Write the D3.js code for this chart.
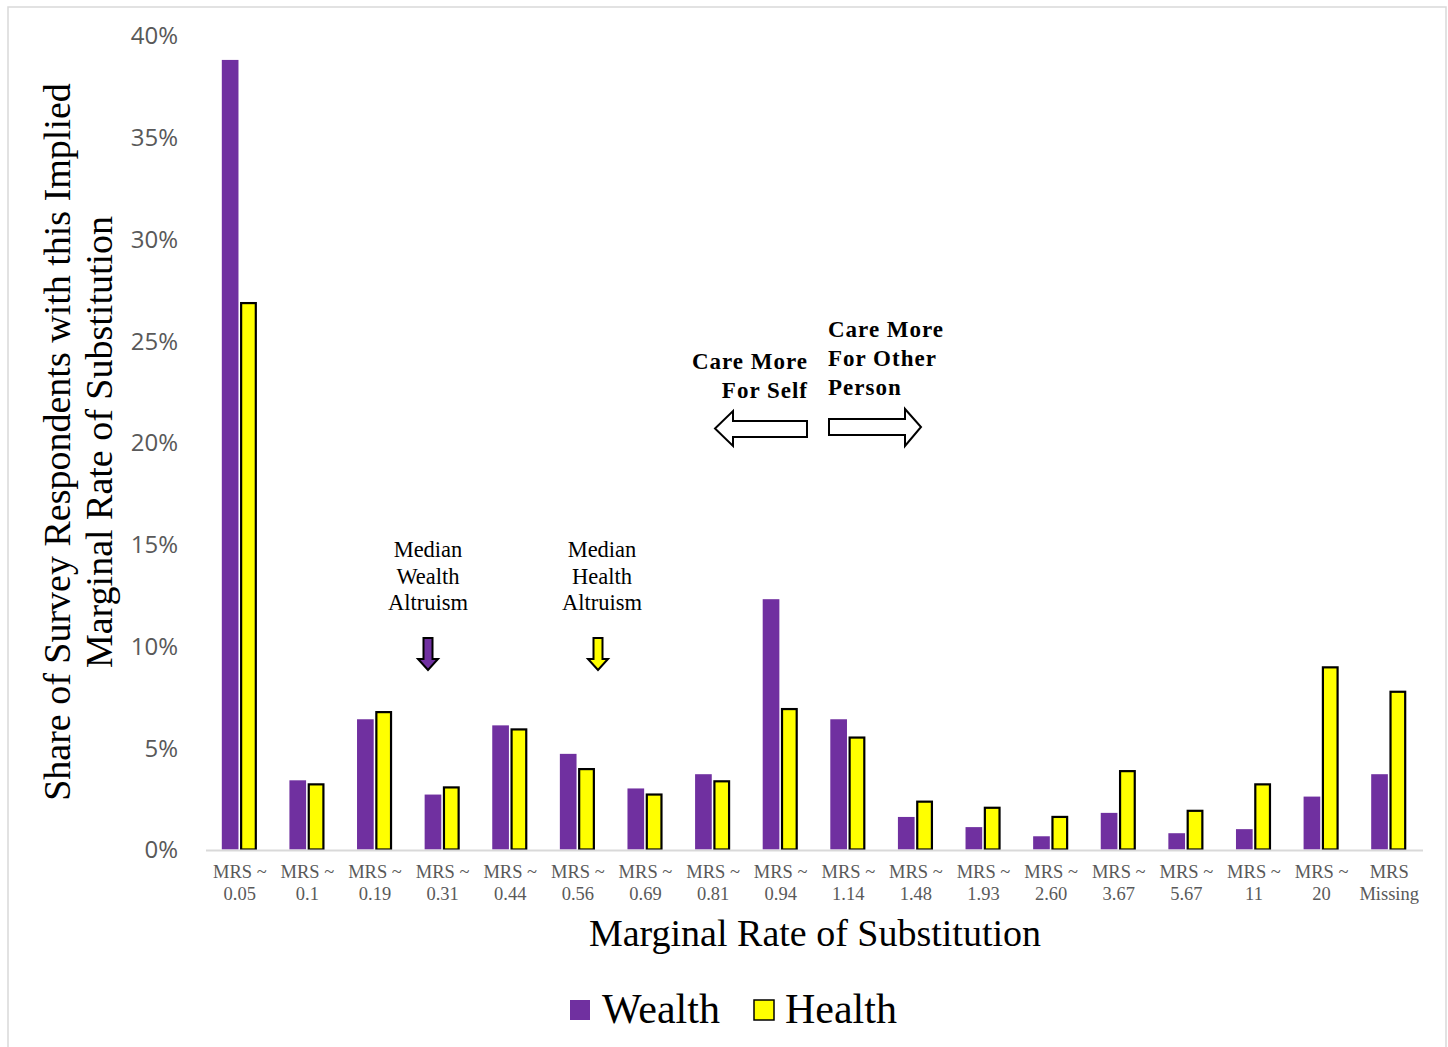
<!DOCTYPE html>
<html>
<head>
<meta charset="utf-8">
<script src="https://cdn.jsdelivr.net/npm/d3@7"></script>
<style>
  html, body { margin: 0; padding: 0; background: #ffffff; }
  svg { display: block; }
</style>
</head>
<body>
<svg id="chart" width="1448" height="1047"></svg>
<script>
// ---- data ----
const categories = ["MRS ~|0.05","MRS ~|0.1","MRS ~|0.19","MRS ~|0.31","MRS ~|0.44","MRS ~|0.56","MRS ~|0.69","MRS ~|0.81","MRS ~|0.94","MRS ~|1.14","MRS ~|1.48","MRS ~|1.93","MRS ~|2.60","MRS ~|3.67","MRS ~|5.67","MRS ~|11","MRS ~|20","MRS|Missing"];
const seriesNames = ["Wealth", "Health"];
const wealthValues = [38.8, 3.4, 6.4, 2.7, 6.1, 4.7, 3.0, 3.7, 12.3, 6.4, 1.6, 1.1, 0.65, 1.8, 0.8, 1.0, 2.6, 3.7];
const healthValues = [26.9, 3.25, 6.8, 3.1, 5.95, 4.0, 2.75, 3.4, 6.95, 5.55, 2.4, 2.1, 1.65, 3.9, 1.95, 3.25, 9.0, 7.8];
const yTicks = [0, 5, 10, 15, 20, 25, 30, 35, 40];

const colors = { Wealth: "#7030A0", Health: "#FFFF00" };
const svg = d3.select("#chart");
const serif = "'Liberation Serif', 'Times New Roman', serif";

// chart border
svg.append("rect").attr("x", 8).attr("y", 7).attr("width", 1438).attr("height", 1060)
  .attr("fill", "#ffffff").attr("stroke", "#d9d9d9").attr("stroke-width", 1.5);

const x = d3.scaleBand().domain(categories).range([206, 1423]).padding(0);
const xs = d3.scaleBand().domain(seriesNames).range([-18, 17]).paddingInner(0.09);
const y = d3.scaleLinear().domain([0, 40]).range([849.5, 35.5]);

// bars
const rows = categories.map((c, i) => ({ c, Wealth: wealthValues[i], Health: healthValues[i] }));
const g = svg.append("g");
rows.forEach(r => {
  const cx = x(r.c) + x.bandwidth() / 2;
  g.append("rect")
    .attr("x", cx + xs("Wealth")).attr("width", xs.bandwidth())
    .attr("y", y(r.Wealth)).attr("height", y(0) - y(r.Wealth))
    .attr("fill", colors.Wealth);
  g.append("rect")
    .attr("x", cx + xs("Health") + 1).attr("width", xs.bandwidth() - 2)
    .attr("y", y(r.Health) + 1).attr("height", y(0) - y(r.Health) - 1)
    .attr("fill", colors.Health).attr("stroke", "#000").attr("stroke-width", 2.2);
});

// baseline
svg.append("line").attr("x1", 206).attr("x2", 1423).attr("y1", y(0) + 1).attr("y2", y(0) + 1)
  .attr("stroke", "#d9d9d9").attr("stroke-width", 2);

// y axis tick labels
const yAxis = d3.axisLeft(y).tickValues(yTicks).tickFormat(d => d + "%").tickSize(0).tickPadding(0);
const yg = svg.append("g").attr("transform", "translate(178,0)").call(yAxis);
yg.select(".domain").remove();
yg.selectAll("text").attr("fill", "#595959").attr("font-family", "'Open Sans', sans-serif")
  .attr("font-size", 24).attr("dy", "0.35em");

// x axis tick labels
const xAxis = d3.axisBottom(x).tickSize(0).tickFormat("");
const xg = svg.append("g").attr("transform", "translate(0,850)").call(xAxis);
xg.select(".domain").remove();
xg.selectAll(".tick").each(function(d) {
  const parts = d.split("|");
  const t = d3.select(this).append("text").attr("fill", "#595959").attr("font-family", serif)
    .attr("font-size", 18.5).attr("text-anchor", "middle");
  t.append("tspan").attr("x", 0).attr("y", 28).text(parts[0]);
  t.append("tspan").attr("x", 0).attr("y", 50).text(parts[1]);
});

// axis titles
svg.append("text").attr("x", 815).attr("y", 946).attr("text-anchor", "middle")
  .attr("font-family", serif).attr("font-size", 38).attr("fill", "#000")
  .text("Marginal Rate of Substitution");
const yt = svg.append("text").attr("transform", "translate(0,442) rotate(-90)")
  .attr("text-anchor", "middle").attr("font-family", serif).attr("font-size", 38).attr("fill", "#000");
yt.append("tspan").attr("x", 0).attr("y", 70).text("Share of Survey Respondents with this Implied");
yt.append("tspan").attr("x", 0).attr("y", 112).text("Marginal Rate of Substitution");

// legend
const leg = [{ n: "Wealth", x: 570, tx: 602 }, { n: "Health", x: 754, tx: 785 }];
leg.forEach(l => {
  svg.append("rect").attr("x", l.x).attr("y", 1000).attr("width", 20).attr("height", 20)
    .attr("fill", colors[l.n]).attr("stroke", l.n === "Health" ? "#000" : "none").attr("stroke-width", 1.5);
  svg.append("text").attr("x", l.tx).attr("y", 1023).attr("font-family", serif)
    .attr("font-size", 42).attr("fill", "#000").text(l.n);
});

// median annotations
function medianNote(cx, word, arrowX, fill) {
  const t = svg.append("text").attr("text-anchor", "middle").attr("font-family", serif)
    .attr("font-size", 22.5).attr("fill", "#000");
  ["Median", word, "Altruism"].forEach((s, i) => {
    t.append("tspan").attr("x", cx).attr("y", 557 + i * 26.5).text(s);
  });
  const ax = arrowX;
  const p = [[ax - 4.5, 638], [ax + 4.5, 638], [ax + 4.5, 659], [ax + 10, 659], [ax, 670], [ax - 10, 659], [ax - 4.5, 659]];
  svg.append("path").attr("d", "M" + p.map(q => q.join(",")).join("L") + "Z")
    .attr("fill", fill).attr("stroke", "#000").attr("stroke-width", 2);
}
medianNote(428, "Wealth", 428, colors.Wealth);
medianNote(602, "Health", 598, colors.Health);

// care more annotations
const boldStyle = t => t.attr("font-family", serif).attr("font-weight", "bold")
  .attr("font-size", 23).attr("letter-spacing", "1px").attr("fill", "#000");
const selfT = boldStyle(svg.append("text").attr("text-anchor", "end"));
["Care More", "For Self"].forEach((s, i) => selfT.append("tspan").attr("x", 808).attr("y", 369 + i * 29).text(s));
const otherT = boldStyle(svg.append("text").attr("text-anchor", "start"));
["Care More", "For Other", "Person"].forEach((s, i) => otherT.append("tspan").attr("x", 828).attr("y", 337 + i * 29).text(s));

const leftArrow = [[807, 421], [807, 437], [733, 437], [733, 446], [715, 428.5], [733, 411], [733, 421]];
const rightArrow = [[829, 419], [829, 435], [905, 435], [905, 446], [921, 427], [905, 409], [905, 419]];
[leftArrow, rightArrow].forEach(p => {
  svg.append("path").attr("d", "M" + p.map(q => q.join(",")).join("L") + "Z")
    .attr("fill", "#fff").attr("stroke", "#000").attr("stroke-width", 2);
});
</script>
</body>
</html>
